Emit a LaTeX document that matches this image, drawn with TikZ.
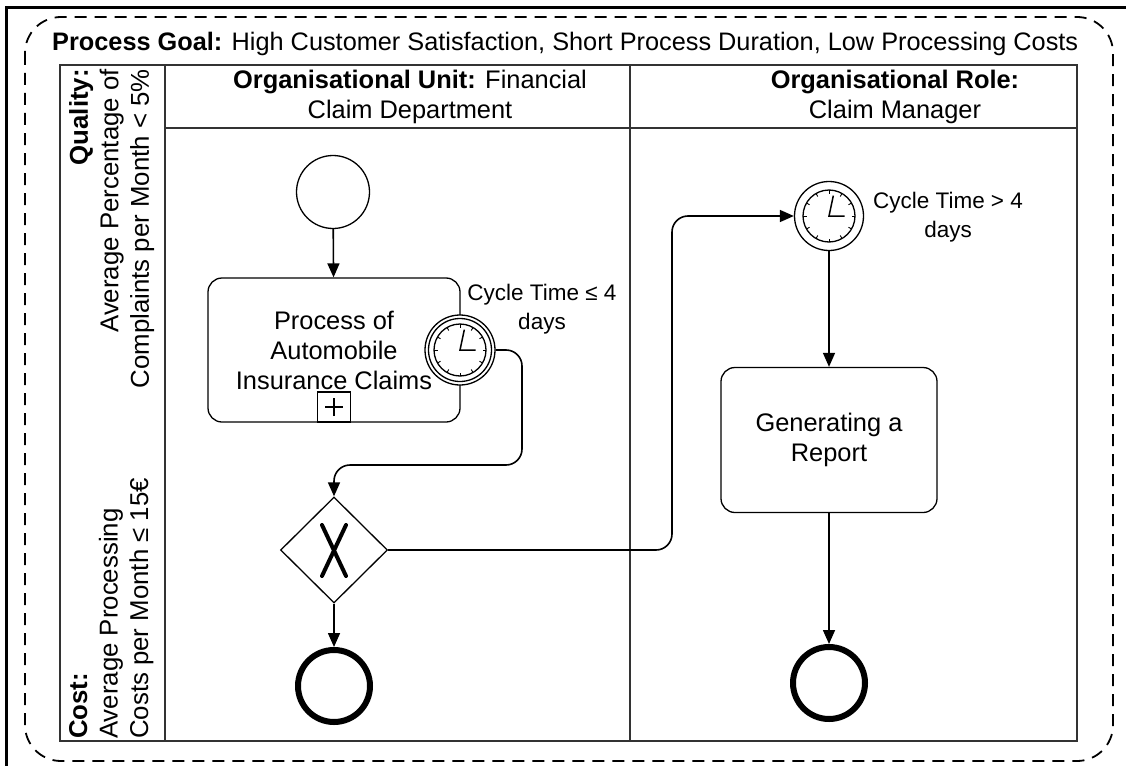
\documentclass[tikz,border=0pt]{standalone}
\usepackage{fontspec}
\setmainfont{Liberation Sans}
\usetikzlibrary{shapes.geometric,arrows.meta,calc}

% clock face of a timer event: centre node, radius (pt)
\newcommand\clockface[2]{%
  \draw[line width=1.3pt] (#1.center) circle[radius=#2pt];
  \foreach \a in {0,30,...,330}
    \draw[line width=0.9pt] ($(#1.center)+(\a:#2pt)$) -- ($(#1.center)+(\a:#2pt-3.5pt)$);
  \draw[line width=1.5pt,line join=miter]
    ($(#1.center)+(78:#2pt*0.8)$) -- (#1.center) -- ($(#1.center)+(0:#2pt*0.6)$);
}

\begin{document}
\begin{tikzpicture}[x=1pt,y=-1pt,
  every node/.style={font=\fontsize{25.4}{30}\selectfont},
  lanes/.style={draw=black!80,line width=1.8pt},
  task/.style={draw,line width=1.3pt,rounded corners=14pt,align=center},
  startev/.style={draw,circle,line width=1.3pt,minimum size=73pt,inner sep=0pt},
  endev/.style={draw,circle,line width=6pt,minimum size=72pt,inner sep=0pt},
  timer/.style={draw,circle,line width=1.3pt,minimum size=#1,inner sep=0pt},
  gateway/.style={draw,diamond,line width=1.3pt,minimum width=107pt,minimum height=106pt,inner sep=0pt},
  flow/.style={line width=1.6pt,rounded corners=16pt,-{Triangle[length=14pt,width=12pt]}},
  note/.style={font=\fontsize{22.5}{29}\selectfont,align=center},
  side/.style={rotate=90,inner sep=0pt,font=\fontsize{25.8}{30.5}\selectfont}]

\useasboundingbox (0,0) rectangle (1126,765);

% outer frame
\draw[line width=3pt] (6,770) -- (6,8) -- (1130,8);

% process boundary
\draw[line width=1.8pt,dash pattern=on 12pt off 8pt,rounded corners=36pt]
  (25,17) rectangle (1113,761);

\node[anchor=base west,inner sep=0pt,font=\fontsize{25.3}{30}\selectfont] (goal) at (52,51)
  {\textbf{Process Goal:} High Customer Satisfaction, Short Process Duration, Low Processing Costs};

% pool with lanes
\draw[lanes] (60,65) rectangle (1077,741);
\draw[lanes] (165,65) -- (165,741);
\draw[lanes] (165,128) -- (1077,128);
\draw[lanes] (630,65) -- (630,741);

\node[align=center] (unit) at (410,97)
  {\textbf{Organisational Unit:} Financial\\Claim Department};
\node[align=center] (role) at (895,97)
  {\textbf{Organisational Role:}\\Claim Manager};

\node[side,anchor=north east,align=right] (quality) at (69,69)
  {\textbf{Quality:}\\Average Percentage of\\Complaints per Month < 5\%};
\node[side,anchor=north west,align=left] (cost) at (69,739)
  {\textbf{Cost:}\\Average Processing\\Costs per Month ≤ 15€};

% flow elements
\node[startev] (start) at (333,192) {};
\node[task,minimum width=252pt,minimum height=144pt] (claims) at (334,350)
  {Process of\\Automobile\\Insurance Claims};
\node[draw,line width=1.3pt,minimum width=33pt,minimum height=30pt,inner sep=0pt,anchor=south]
  (sub) at (claims.south) {};
\draw[line width=1.2pt] ($(sub.center)+(-9pt,0)$) -- ($(sub.center)+(9pt,0)$)
  ($(sub.center)+(0,-9pt)$) -- ($(sub.center)+(0,9pt)$);

\node[timer=70pt,fill=white] (timerA) at (460,350) {};
\draw[line width=1.3pt] (timerA.center) circle[radius=31.5pt];
\clockface{timerA}{26}
\node[note] (labelA) at (542,309) {Cycle Time ≤ 4\\days};

\node[gateway] (xor) at (334,550) {};
\draw[line width=4pt,line cap=round] (322,525) -- (346,576) (346,525) -- (322,576);

\node[endev] (endA) at (334,686) {};

\node[timer=69pt] (timerB) at (829,216) {};
\clockface{timerB}{26}
\node[note] (labelB) at (948,217) {Cycle Time > 4\\days};

\node[task,minimum width=216pt,minimum height=145pt] (report) at (829,440)
  {Generating a\\Report};
\node[endev] (endB) at (829,683) {};

% sequence flows
\draw[flow] (start) -- (claims);
\draw[flow] (timerA.east) -- (522,350) -- (522,465) -- (334,465) -- (xor.north);
\draw[flow] (xor) -- (endA);
\draw[flow] (xor.east) -- (672,550) -- (672,216) -- (timerB.west);
\draw[flow] (timerB) -- (report);
\draw[flow] (report) -- (endB);
\end{tikzpicture}
\end{document}
